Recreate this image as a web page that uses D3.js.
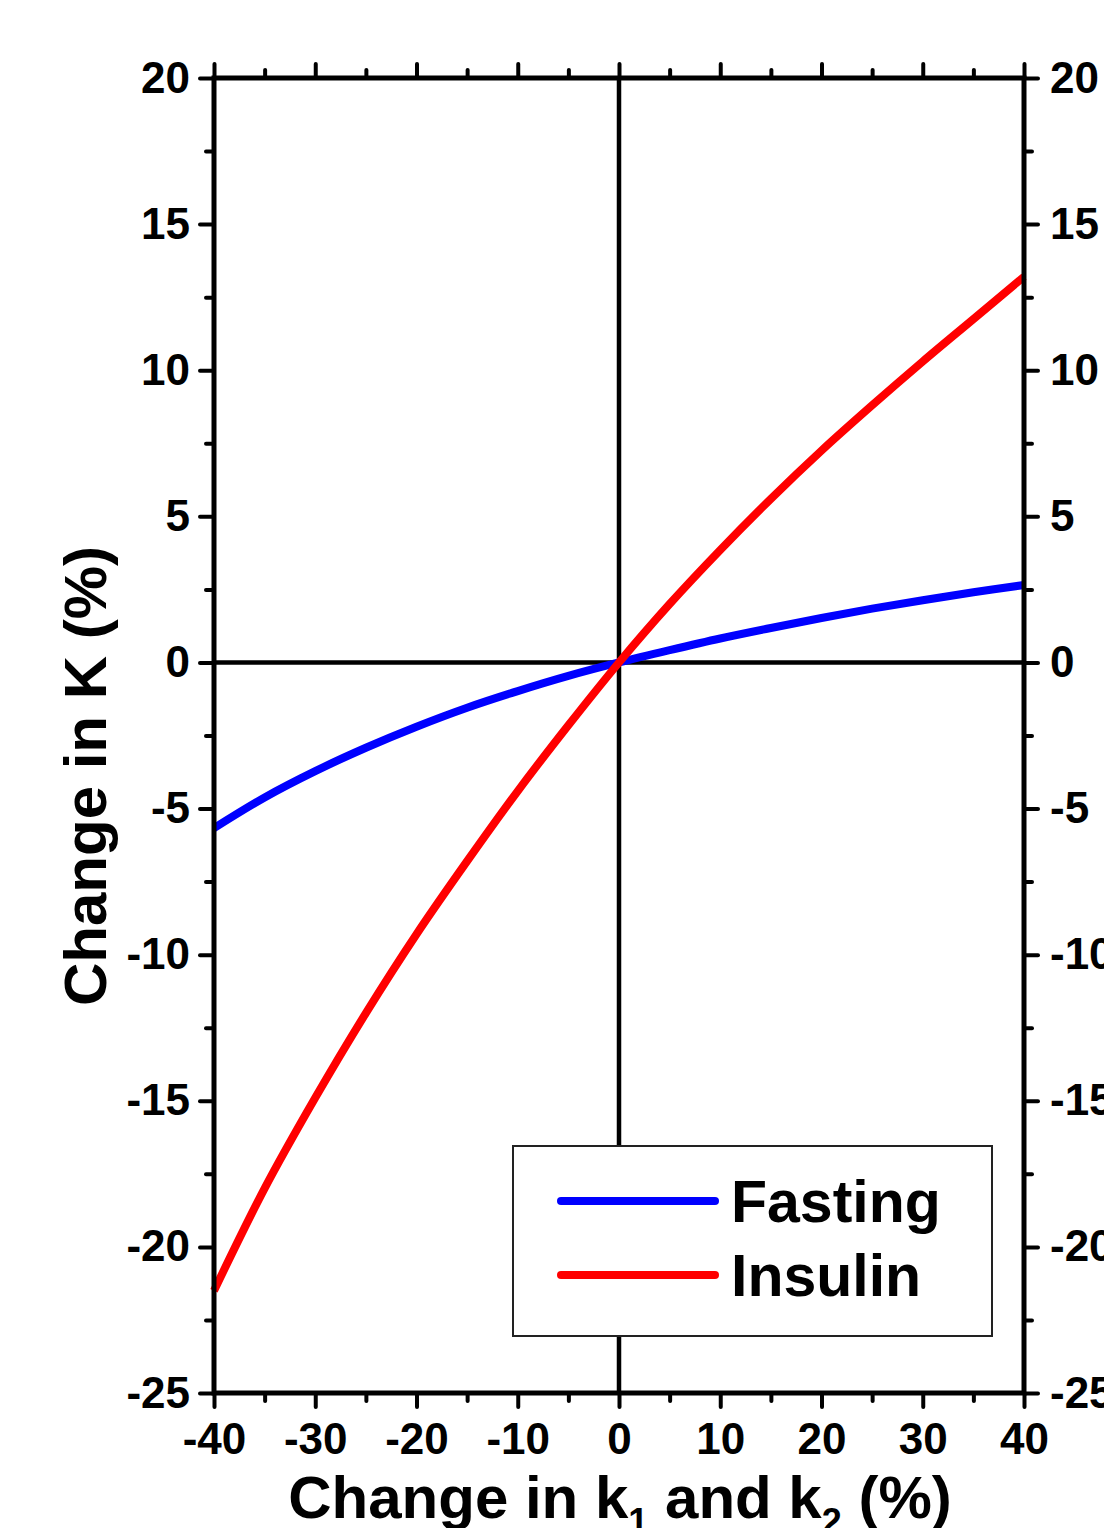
<!DOCTYPE html>
<html>
<head>
<meta charset="utf-8">
<script src="https://cdn.jsdelivr.net/npm/d3@7"></script>
<style>
  body { margin: 0; background: #fff; }
  text { font-family: "Liberation Sans", Arial, sans-serif; font-weight: bold; fill: #000; }
</style>
</head>
<body>
<div id="chart"></div>
<script>
/* -----------------------
data
------------------------- */

var changeK12 = [-40, -35, -30, -25, -20, -15, -10, -5, 0, 5, 10, 15, 20, 25, 30, 35, 40];
var fasting   = [-5.67, -4.62, -3.72, -2.92, -2.2, -1.55, -0.98, -0.46, 0, 0.42, 0.82, 1.18, 1.52, 1.84, 2.13, 2.4, 2.65];
var insulin   = [-21.5, -18.0, -14.9, -12.0, -9.3, -6.8, -4.4, -2.15, 0, 2.0, 3.85, 5.6, 7.25, 8.8, 10.3, 11.75, 13.2];

var seriesNames  = ['Fasting', 'Insulin'];
var seriesColors = ['#0000ff', '#ff0000'];

var xMajor = [-40, -30, -20, -10, 0, 10, 20, 30, 40];
var xMinor = [-35, -25, -15, -5, 5, 15, 25, 35];
var yMajor = [-25, -20, -15, -10, -5, 0, 5, 10, 15, 20];
var yMinor = [-22.5, -17.5, -12.5, -7.5, -2.5, 2.5, 7.5, 12.5, 17.5];

/* -----------------------
main variables
------------------------- */

var width = 1104;
var height = 1528;
var margin = {top: 78, right: 80, bottom: 135, left: 214};

var svg = d3.select('#chart')
  .append('svg')
  .attr('width', width)
  .attr('height', height);

var x = d3.scaleLinear().domain([-40, 40]).range([margin.left, width - margin.right]);
var y = d3.scaleLinear().domain([-25, 20]).range([height - margin.bottom, margin.top]);

var majorLen = 14, minorLen = 8;

// plain hyphen for negatives, like the original
function fmt(d) { return String(d); }

function styleAxis(g) {
  g.select('.domain').remove();
  g.selectAll('.tick line')
    .attr('stroke', '#000')
    .attr('stroke-width', 4)
    .attr('stroke-linecap', 'round');
  g.selectAll('.tick text')
    .style('font-size', '44px')
    .style('font-family', '"Liberation Sans", Arial, sans-serif')
    .style('font-weight', 'bold');
}

/* --- zero lines --- */
svg.append('line')
  .attr('x1', x(-40)).attr('x2', x(40))
  .attr('y1', y(0)).attr('y2', y(0))
  .attr('stroke', '#000').attr('stroke-width', 4.5);
svg.append('line')
  .attr('x1', x(0)).attr('x2', x(0))
  .attr('y1', y(20)).attr('y2', y(-25))
  .attr('stroke', '#000').attr('stroke-width', 4.5);

/* --- curves --- */
var line = d3.line()
  .x(function (d) { return x(d[0]); })
  .y(function (d) { return y(d[1]); })
  .curve(d3.curveCatmullRom);

[fasting, insulin].forEach(function (vals, i) {
  svg.append('path')
    .datum(changeK12.map(function (c, j) { return [c, vals[j]]; }))
    .attr('d', line)
    .attr('fill', 'none')
    .attr('stroke', seriesColors[i])
    .attr('stroke-width', 8);
});

/* --- axes --- */
// bottom
svg.append('g').attr('transform', 'translate(0,' + y(-25) + ')')
  .call(d3.axisBottom(x).tickValues(xMajor).tickSize(majorLen).tickPadding(16).tickFormat(fmt))
  .call(styleAxis);
svg.append('g').attr('transform', 'translate(0,' + y(-25) + ')')
  .call(d3.axisBottom(x).tickValues(xMinor).tickSize(minorLen).tickFormat(''))
  .call(styleAxis);
// top
svg.append('g').attr('transform', 'translate(0,' + y(20) + ')')
  .call(d3.axisTop(x).tickValues(xMajor).tickSize(majorLen).tickFormat(''))
  .call(styleAxis);
svg.append('g').attr('transform', 'translate(0,' + y(20) + ')')
  .call(d3.axisTop(x).tickValues(xMinor).tickSize(minorLen).tickFormat(''))
  .call(styleAxis);
// left
svg.append('g').attr('transform', 'translate(' + x(-40) + ',0)')
  .call(d3.axisLeft(y).tickValues(yMajor).tickSize(majorLen).tickPadding(10).tickFormat(fmt))
  .call(styleAxis);
svg.append('g').attr('transform', 'translate(' + x(-40) + ',0)')
  .call(d3.axisLeft(y).tickValues(yMinor).tickSize(minorLen).tickFormat(''))
  .call(styleAxis);
// right
svg.append('g').attr('transform', 'translate(' + x(40) + ',0)')
  .call(d3.axisRight(y).tickValues(yMajor).tickSize(majorLen).tickPadding(12).tickFormat(fmt))
  .call(styleAxis);
svg.append('g').attr('transform', 'translate(' + x(40) + ',0)')
  .call(d3.axisRight(y).tickValues(yMinor).tickSize(minorLen).tickFormat(''))
  .call(styleAxis);

/* --- frame --- */
svg.append('rect')
  .attr('x', x(-40)).attr('y', y(20))
  .attr('width', x(40) - x(-40)).attr('height', y(-25) - y(20))
  .attr('fill', 'none').attr('stroke', '#000').attr('stroke-width', 5);

/* --- axis titles --- */
var xt = svg.append('text')
  .attr('x', (x(-40) + x(40)) / 2 + 1)
  .attr('y', 1518)
  .attr('text-anchor', 'middle')
  .style('font-size', '60px');
xt.append('tspan').text('Change in k');
xt.append('tspan').attr('dy', 16).style('font-size', '36px').text('1');
xt.append('tspan').attr('dy', -16).text(' and k');
xt.append('tspan').attr('dy', 16).style('font-size', '36px').text('2');
xt.append('tspan').attr('dy', -16).text(' (%)');

svg.append('text')
  .attr('transform', 'translate(106,' + 776 + ') rotate(-90)')
  .attr('text-anchor', 'middle')
  .style('font-size', '60px')
  .text('Change in K (%)');

/* --- legend --- */
var legend = svg.append('g').attr('transform', 'translate(513,1146)');
legend.append('rect')
  .attr('width', 479).attr('height', 190)
  .attr('fill', '#fff').attr('stroke', '#222').attr('stroke-width', 2);

seriesNames.forEach(function (name, i) {
  var ly = 55 + i * 74;
  legend.append('line')
    .attr('x1', 48).attr('x2', 202)
    .attr('y1', ly).attr('y2', ly)
    .attr('stroke', seriesColors[i]).attr('stroke-width', 8)
    .attr('stroke-linecap', 'round');
  legend.append('text')
    .attr('x', 218).attr('y', ly + 21)
    .style('font-size', '59px')
    .text(name);
});
</script>
</body>
</html>
